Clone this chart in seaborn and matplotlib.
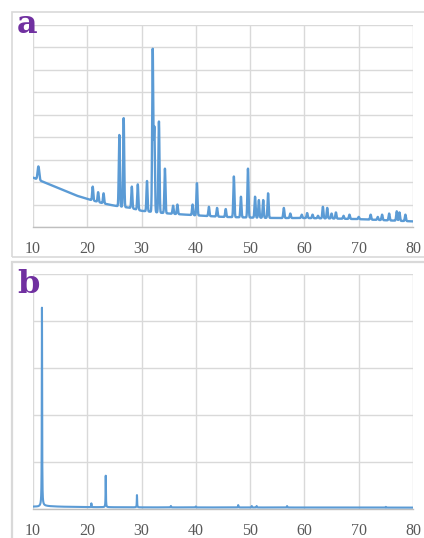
import numpy as np
import pandas as pd
import matplotlib
matplotlib.use("Agg")
import matplotlib.pyplot as plt
from matplotlib.patches import Rectangle
import seaborn as sns

# ---------------- data ----------------
# Panel a: background anchors and peaks (position, top value, width)
bg_a_x = [10, 12, 15, 18, 20, 23, 25, 28, 30, 35, 40, 45, 50, 55, 60, 65, 70, 75, 80]
bg_a_y = [2.2, 2.0, 1.7, 1.4, 1.25, 1.05, 0.95, 0.85, 0.72, 0.6, 0.52, 0.45, 0.42,
          0.4, 0.4, 0.38, 0.35, 0.3, 0.25]
peak_a_pos = [11.0, 21.0, 22.0, 23.0, 25.9, 26.7, 28.2, 29.3, 31.0, 32.05, 32.35,
              33.2, 34.3, 35.8, 36.6, 39.4, 40.2, 42.4, 43.9, 45.5, 47.0, 48.3,
              49.6, 50.9, 51.6, 52.4, 53.3, 56.2, 57.4, 59.5, 60.5, 61.5, 62.5,
              63.4, 64.2, 65.0, 65.8, 67.2, 68.3, 70.0, 72.2, 73.5, 74.3, 75.6,
              77.0, 77.5, 78.6]
peak_a_top = [2.7, 1.8, 1.55, 1.5, 4.1, 4.85, 1.8, 1.9, 2.05, 7.9, 4.4,
              4.7, 2.6, 0.95, 1.0, 1.0, 1.95, 0.9, 0.85, 0.8, 2.25, 1.35,
              2.6, 1.35, 1.2, 1.2, 1.5, 0.85, 0.6, 0.55, 0.62, 0.55, 0.5,
              0.9, 0.85, 0.6, 0.65, 0.5, 0.55, 0.45, 0.55, 0.45, 0.55, 0.6,
              0.7, 0.65, 0.55]
peak_a_width = [0.15] + [0.1] * (len(peak_a_pos) - 1)

# Panel b: background anchors and peaks (position, height, width)
bg_b_x = [10, 11, 12, 13, 15, 20, 30, 80]
bg_b_y = [0.05, 0.05, 0.07, 0.06, 0.05, 0.04, 0.035, 0.03]
peak_b_pos = [11.65, 20.75, 23.4, 29.15, 35.4, 40.0, 47.8, 50.3, 51.2, 56.8, 75.0]
peak_b_height = [4.22, 0.08, 0.67, 0.26, 0.03, 0.02, 0.05, 0.03, 0.03, 0.03, 0.015]
peak_b_width = [0.035] * len(peak_b_pos)

x_ticks = [10, 20, 30, 40, 50, 60, 70, 80]

# ---------------- build profiles ----------------
theta = np.round(np.linspace(10, 80, 7001), 2)

bg_a = np.interp(theta, bg_a_x, bg_a_y)
ya = bg_a.copy()
for p, t, w in zip(peak_a_pos, peak_a_top, peak_a_width):
    h = t - np.interp(p, bg_a_x, bg_a_y)
    ya += h * np.exp(-0.5 * ((theta - p) / w) ** 2)

yb = np.interp(theta, bg_b_x, bg_b_y)
for p, h, g in zip(peak_b_pos, peak_b_height, peak_b_width):
    yb += h * g ** 2 / (g ** 2 + (theta - p) ** 2)

df_a = pd.DataFrame({"theta": theta, "I": ya})
df_b = pd.DataFrame({"theta": theta, "I": yb})

# ---------------- plotting ----------------
sns.set_theme(style="white")
plt.rcParams["font.family"] = ["Liberation Serif", "DejaVu Serif"]

W, H = 424, 538
fig = plt.figure(figsize=(W / 100, H / 100), dpi=100)

grid_c = "#D9D9D9"
line_c = "#5B9BD5"
text_c = "#595959"

# outer chart-area frames
fig.patches.append(Rectangle((12 / W, 1 - 257 / H), 440 / W, 245 / H,
                             transform=fig.transFigure, fill=False,
                             edgecolor=grid_c, linewidth=1.2))
fig.patches.append(Rectangle((12 / W, -0.05), 440 / W, 1 - 262 / H + 0.05,
                             transform=fig.transFigure, fill=False,
                             edgecolor=grid_c, linewidth=1.6))

ax_a = fig.add_axes([33 / W, 1 - 227 / H, 380 / W, 202 / H])
ax_b = fig.add_axes([33 / W, 1 - 509 / H, 380 / W, 235 / H])

for ax, df, ymax, lw in [(ax_a, df_a, 9, 1.7), (ax_b, df_b, 5, 1.5)]:
    sns.lineplot(data=df, x="theta", y="I", ax=ax, color=line_c,
                 linewidth=lw, zorder=3)
    ax.set_xlim(10, 80)
    ax.set_ylim(0, ymax)
    ax.set_xticks(x_ticks)
    ax.set_xticklabels([str(t) for t in x_ticks])
    ax.set_yticks(np.arange(0, ymax + 1, 1))
    ax.set_yticklabels([])
    ax.grid(True, color=grid_c, linewidth=1.0)
    ax.set_axisbelow(True)
    ax.set_xlabel("")
    ax.set_ylabel("")
    for s in ax.spines.values():
        s.set_visible(False)
    ax.spines["bottom"].set_visible(True)
    ax.spines["bottom"].set_color("#BFBFBF")
    ax.spines["bottom"].set_linewidth(1.0)
    ax.tick_params(axis="x", length=0, pad=10, labelsize=11.5, labelcolor=text_c)
    ax.tick_params(axis="y", length=0)

fig.text(17 / W, 1 - 33 / H, "a", color="#7030A0", fontsize=23,
         fontweight="bold", family=["DejaVu Serif"], va="baseline")
fig.text(17 / W, 1 - 293 / H, "b", color="#7030A0", fontsize=23,
         fontweight="bold", family=["DejaVu Serif"], va="baseline")

fig.savefig("out.png", dpi=100)
